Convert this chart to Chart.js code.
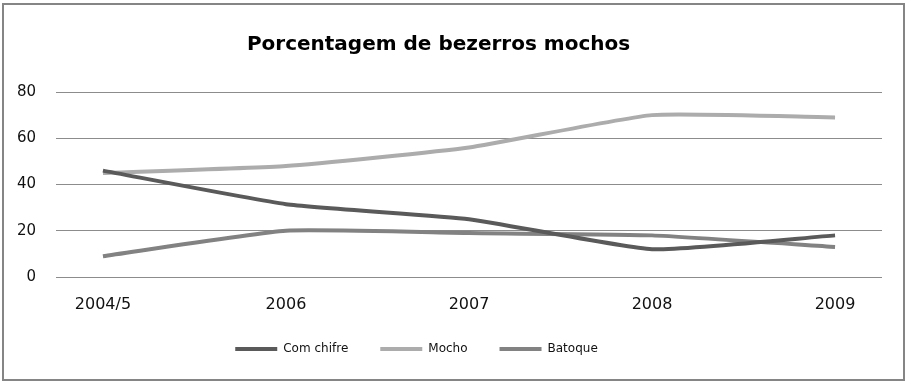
<!DOCTYPE html>
<html>
<head>
<meta charset="utf-8">
<script src="https://cdn.jsdelivr.net/npm/chart.js@4.4.1/dist/chart.umd.min.js"></script>
<style>
  body { margin: 0; background: #fff; }
  #wrap { position: relative; width: 909px; height: 385px; }
  #box { position: absolute; left: 2px; top: 3px; width: 899px; height: 374px; border: 2px solid #858585; pointer-events: none; }
  canvas { position: absolute; left: 0; top: 0; }
</style>
</head>
<body>
<div id="wrap">
  <canvas id="myChart" width="909" height="385"></canvas>
  <div id="box"></div>
</div>
<script>
// data
let years = ["2004/5", "2006", "2007", "2008", "2009"];
let comChifre = [46, 31.5, 25, 12, 18];
let mocho = [45, 48, 56, 70, 69];
let batoque = [9, 20, 19, 18, 13];
let yTicks = [0, 20, 40, 60, 80];

function points(arr) {
  return arr.map(function (v, i) { return { x: i, y: v }; });
}

function line(label, arr, color) {
  return {
    label: label,
    data: points(arr),
    borderColor: color,
    backgroundColor: color,
    borderWidth: 4,
    pointRadius: 0,
    tension: 0.15
  };
}

// title and legend sit a bit left of centre in the original
const shiftBoxes = {
  id: "shiftBoxes",
  afterLayout(chart) {
    chart.titleBlock.left -= 11;
    chart.titleBlock.right -= 11;
    chart.legend.left -= 33;
    chart.legend.right -= 33;
  }
};

const ctx = document.getElementById("myChart").getContext("2d");
let chart = new Chart(ctx, {
  type: "line",
  data: {
    datasets: [
      line("Com chifre", comChifre, "#5a5a5a"),
      line("Mocho", mocho, "#acacac"),
      line("Batoque", batoque, "#828282")
    ]
  },
  options: {
    responsive: false,
    animation: false,
    layout: { padding: { top: 33, left: 17, right: 27, bottom: 20 } },
    plugins: {
      title: {
        display: true,
        text: "Porcentagem de bezerros mochos",
        color: "#000",
        font: { family: "DejaVu Sans", size: 20, weight: "bold" },
        padding: { top: 0, bottom: 35 }
      },
      legend: {
        position: "bottom",
        labels: {
          usePointStyle: true,
          pointStyle: "line",
          pointStyleWidth: 42,
          boxHeight: 4,
          padding: 32,
          color: "#111",
          font: { family: "DejaVu Sans", size: 12 }
        }
      },
      tooltip: { enabled: false }
    },
    scales: {
      x: {
        type: "linear",
        min: -0.2565,
        max: 4.2565,
        grid: { display: false, drawTicks: false },
        border: { display: false },
        afterBuildTicks: function (s) {
          s.ticks = years.map(function (y, i) { return { value: i }; });
        },
        afterFit: function (s) {
          s.paddingLeft = 0;
          s.paddingRight = 0;
          s.height = 34;
        },
        ticks: {
          padding: 18,
          color: "#111",
          font: { family: "DejaVu Sans", size: 16 },
          callback: function (v) { return years[v]; }
        }
      },
      y: {
        min: 0,
        max: 80,
        afterBuildTicks: function (s) {
          s.ticks = yTicks.map(function (v) { return { value: v }; });
        },
        afterFit: function (s) {
          s.width = 39;
        },
        grid: { color: "#8c8c8c", lineWidth: 1, drawTicks: false },
        border: { display: false },
        ticks: {
          padding: 20,
          color: "#111",
          font: { family: "DejaVu Sans", size: 15 }
        }
      }
    }
  },
  plugins: [shiftBoxes]
});
</script>
</body>
</html>
